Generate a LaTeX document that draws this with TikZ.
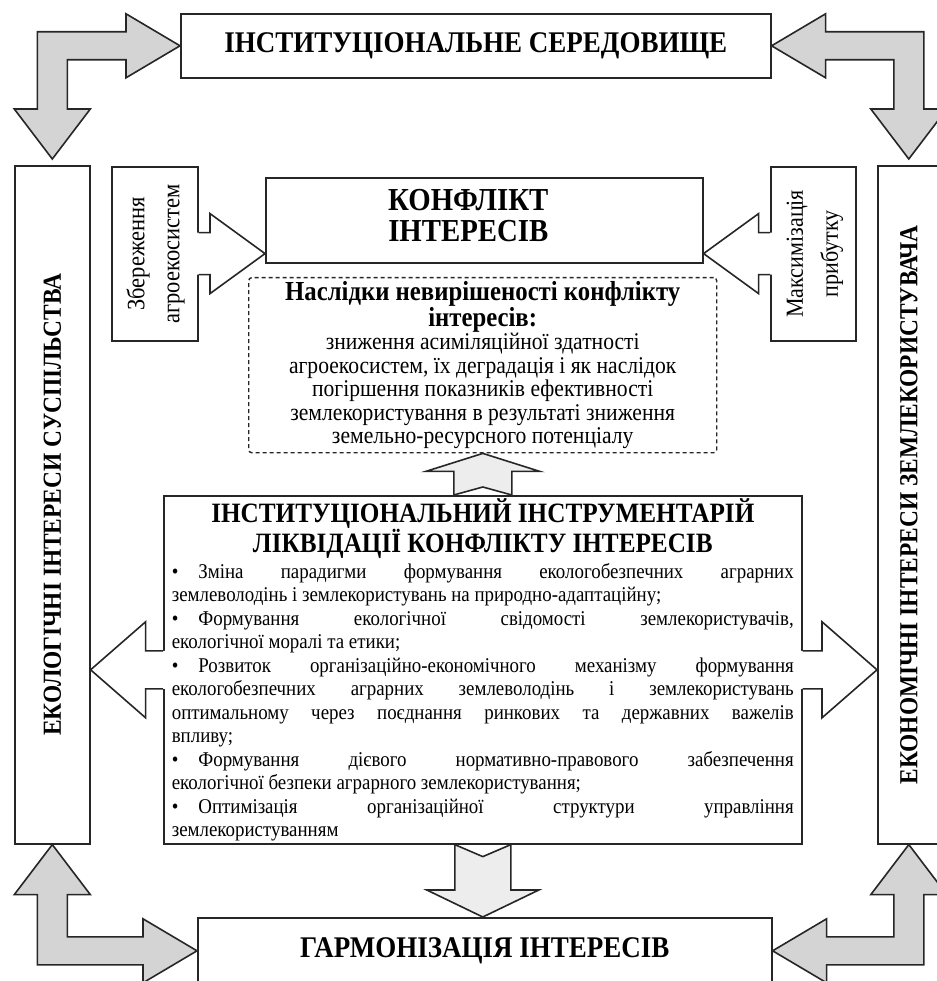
\documentclass[tikz,border=0pt]{standalone}
\usepackage{fontspec}
\setmainfont{Liberation Serif}[FakeStretch=0.9]
\usepackage{graphicx}
\usetikzlibrary{calc}

% Flèche coudée à deux pointes : #1 pointe horizontale, #2 pointe verticale
\newcommand{\flecheCoudee}[2]{%
  \filldraw[fleche grise] let \p1=(#1), \p2=(#2),
    \n1={(\x1-\x2)/abs(\x1-\x2)}, \n2={(\y2-\y1)/abs(\y2-\y1)} in
    ({\x2-(\n1)*15pt}, {\y1-(\n2)*14pt}) -- ({\x1-(\n1)*54pt}, {\y1-(\n2)*14pt})
    -- ({\x1-(\n1)*54pt}, {\y1-(\n2)*32pt}) -- (\x1,\y1)
    -- ({\x1-(\n1)*54pt}, {\y1+(\n2)*32pt}) -- ({\x1-(\n1)*54pt}, {\y1+(\n2)*14pt})
    -- ({\x2+(\n1)*15pt}, {\y1+(\n2)*14pt}) -- ({\x2+(\n1)*15pt}, {\y2-(\n2)*50pt})
    -- ({\x2+(\n1)*38pt}, {\y2-(\n2)*50pt}) -- (\x2,\y2)
    -- ({\x2-(\n1)*38pt}, {\y2-(\n2)*50pt}) -- ({\x2-(\n1)*15pt}, {\y2-(\n2)*50pt}) -- cycle;}

% Flèche horizontale blanche sortant d'un cadre : base, pointe, demi-tige, demi-tête, longueur tête
\newcommand{\flecheH}[5]{%
  \fill[white] let \p1=(#1), \p2=(#2), \n1={(\x2-\x1)/abs(\x2-\x1)} in
    ({\x1-(\n1)*2pt}, {\y1+#3}) -- ({\x2-(\n1)*#5}, {\y1+#3}) -- ({\x2-(\n1)*#5}, {\y1+#4})
    -- (\x2,\y1) -- ({\x2-(\n1)*#5}, {\y1-#4}) -- ({\x2-(\n1)*#5}, {\y1-#3})
    -- ({\x1-(\n1)*2pt}, {\y1-#3}) -- cycle;
  \draw[trait] let \p1=(#1), \p2=(#2), \n1={(\x2-\x1)/abs(\x2-\x1)} in
    (\x1, {\y1+#3}) -- ({\x2-(\n1)*#5}, {\y1+#3}) -- ({\x2-(\n1)*#5}, {\y1+#4})
    -- (\x2,\y1) -- ({\x2-(\n1)*#5}, {\y1-#4}) -- ({\x2-(\n1)*#5}, {\y1-#3}) -- (\x1, {\y1-#3});}

% Flèche verticale à queue entaillée : base, pointe, demi-tige, demi-tête, longueur tête, entaille
\newcommand{\flecheV}[6]{%
  \filldraw[fleche claire] let \p1=(#1), \p2=(#2), \n1={(\y2-\y1)/abs(\y2-\y1)} in
    ({\x1-#3}, \y1) -- ({\x1-#3}, {\y2-(\n1)*#5}) -- ({\x1-#4}, {\y2-(\n1)*#5})
    -- (\x1,\y2) -- ({\x1+#4}, {\y2-(\n1)*#5}) -- ({\x1+#3}, {\y2-(\n1)*#5})
    -- ({\x1+#3}, \y1) -- (\x1, {\y1+(\n1)*#6}) -- cycle;}

\begin{document}
\begin{tikzpicture}[x=1pt, y=-1pt,
    trait/.style={draw=black!85, line width=1.6pt},
    boite/.style={trait, fill=white, inner sep=0pt, anchor=north west, align=center},
    pointille/.style={draw=black!85, line width=1.4pt, dash pattern=on 4pt off 3pt,
      rounded corners=3pt, inner sep=0pt, anchor=north west},
    fleche grise/.style={trait, fill=black!17},
    fleche claire/.style={trait, fill=black!7}]

  \useasboundingbox (0,0) rectangle (936,981);

  % Cadres du haut et du bas
  \node[boite, minimum width=590pt, minimum height=64pt] (env) at (180,13)
    {\fontsize{30}{30}\selectfont\bfseries ІНСТИТУЦІОНАЛЬНЕ СЕРЕДОВИЩЕ};
  \node[boite, minimum width=574pt, minimum height=66pt] (harm) at (197,917)
    {\raisebox{4pt}{\fontsize{30}{30}\selectfont\bfseries ГАРМОНІЗАЦІЯ ІНТЕРЕСІВ}};

  % Cadres verticaux
  \node[boite, minimum width=75pt, minimum height=678pt] (soc) at (14,165)
    {\rotatebox{90}{\fontsize{26}{26}\selectfont\bfseries ЕКОЛОГІЧНІ ІНТЕРЕСИ СУСПІЛЬСТВА}};
  \node[boite, minimum width=62pt, minimum height=678pt] (econ) at (877,165)
    {\rotatebox{90}{\fontsize{26}{26}\selectfont\bfseries ЕКОНОМІЧНІ ІНТЕРЕСИ ЗЕМЛЕКОРИСТУВАЧА}};

  % Conflit et ses deux sources
  \node[boite, minimum width=437pt, minimum height=85pt,
    font=\fontsize{32}{31}\selectfont\bfseries] (konf) at (265,177)
    {\begin{tabular}{@{}c@{}}КОНФЛІКТ\\ІНТЕРЕСІВ\end{tabular}\hspace{32pt}};
  \node[boite, minimum width=86pt, minimum height=174pt] (zb) at (111,166)
    {\rotatebox{90}{\fontsize{25}{35}\selectfont\begin{tabular}{@{}c@{}}Збереження\\агроекосистем\end{tabular}}};
  \node[boite, minimum width=85pt, minimum height=174pt] (mp) at (770,166)
    {\rotatebox{90}{\fontsize{24.5}{35}\selectfont\begin{tabular}{@{}c@{}}Максимізація\\прибутку\end{tabular}}};

  % Conséquences (cadre en pointillés)
  \node[pointille, minimum width=468pt, minimum height=175pt] (dash) at (248,277) {%
    \begin{minipage}{462pt}\centering
      {\fontsize{27.5}{24}\selectfont\bfseries Наслідки невирішеності конфлікту\\інтересів:\par}
      \fontsize{24}{23.5}\selectfont
      зниження асиміляційної здатності\\
      агроекосистем, їх деградація і як наслідок\\
      погіршення показників ефективності\\
      землекористування в результаті зниження\\
      земельно-ресурсного потенціалу
    \end{minipage}};

  % Instruments
  \node[boite, minimum width=638pt, minimum height=348pt] (instr) at (163,495) {%
    \begin{minipage}{622pt}
      {\centering\fontsize{28}{28}\selectfont\bfseries
        ІНСТИТУЦІОНАЛЬНИЙ ІНСТРУМЕНТАРІЙ\\ЛІКВІДАЦІЇ КОНФЛІКТУ ІНТЕРЕСІВ\par}
      \vspace{2pt}
      \fontsize{21}{23.5}\selectfont
      •\hspace{20pt}Зміна парадигми формування екологобезпечних аграрних\linebreak
      землеволодінь і землекористувань на природно-адаптаційну;\par
      •\hspace{20pt}Формування екологічної свідомості землекористувачів,\linebreak
      екологічної моралі та етики;\par
      •\hspace{20pt}Розвиток організаційно-економічного механізму формування\linebreak
      екологобезпечних аграрних землеволодінь і землекористувань\linebreak
      оптимальному через поєднання ринкових та державних важелів\linebreak
      впливу;\par
      •\hspace{20pt}Формування дієвого нормативно-правового забезпечення\linebreak
      екологічної безпеки аграрного землекористування;\par
      •\hspace{20pt}Оптимізація організаційної структури управління\linebreak
      землекористуванням
    \end{minipage}};

  % Flèches coudées grises
  \flecheCoudee{env.west}{$(soc.north)+(0,-6)$}
  \flecheCoudee{env.east}{$(econ.north)+(0,-6)$}
  \flecheCoudee{harm.west}{soc.south}
  \flecheCoudee{harm.east}{econ.south}

  % Flèches vers le conflit
  \coordinate (pg) at ($(konf.south west)+(0,-10)$);
  \coordinate (pd) at ($(konf.south east)+(0,-10)$);
  \flecheH{zb.east |- pg}{pg}{21pt}{40pt}{55pt}
  \flecheH{mp.west |- pd}{pd}{21pt}{40pt}{55pt}

  % Flèches issues des instruments
  \flecheH{instr.west}{soc.east |- instr.west}{19pt}{48pt}{55pt}
  \flecheH{instr.east}{econ.west |- instr.east}{19pt}{48pt}{55pt}
  \flecheV{instr.north}{dash.south}{29pt}{57pt}{18pt}{8pt}
  \flecheV{instr.south}{harm.north}{28pt}{56pt}{27pt}{12pt}

\end{tikzpicture}
\end{document}
